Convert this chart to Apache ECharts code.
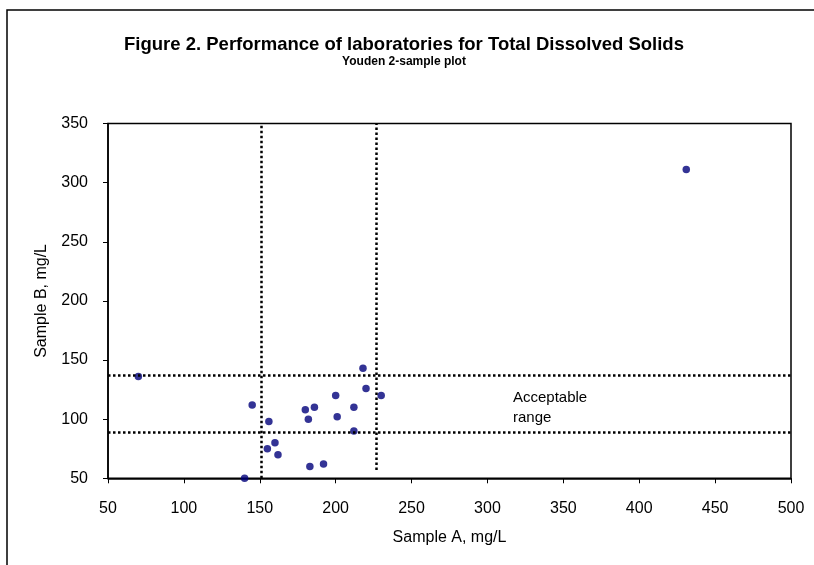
<html>
    <head>
        <meta charset="utf-8">
        <script src="https://cdn.jsdelivr.net/npm/echarts@6/dist/echarts.min.js"></script>
    </head>
    <body style="margin:0">
        <div id="main" style="width:814px;height:565px"></div>
        <script>

        // lab results, mg/L
        var sampleA = [70, 145, 156, 180, 186, 182, 200, 201, 212, 212, 218, 220, 230, 155, 160, 162, 183, 192, 140, 431];
        var sampleB = [136, 112, 98, 108, 110, 100, 120, 102, 110, 90, 143, 126, 120, 75, 80, 70, 60, 62, 50, 311];

        // acceptable limits
        var limitsB = [137.5, 89];
        var limitsA = [151, 227];
        var limitsAFrom = [50, 57];

        var xTicks = [50, 500, 50];   // min, max, step
        var yTicks = [50, 350, 50];

        var font = '"Liberation Sans", Arial, sans-serif';

        var points = [];
        for (var i = 0; i < sampleA.length; i++) {
            points.push([sampleA[i], sampleB[i]]);
        }

        var dotted = { color: '#000', width: 2.5, type: [2.5, 2.5] };

        var lines = [];
        limitsB.forEach(function (v) {
            lines.push({ yAxis: v });
        });
        limitsA.forEach(function (v, i) {
            lines.push([{ coord: [v, limitsAFrom[i]] }, { coord: [v, yTicks[1]] }]);
        });

        var myChart = echarts.init(document.getElementById('main'));

        var option = {
            animation: false,
            backgroundColor: '#fff',
            textStyle: { fontFamily: font },
            title: {
                text: 'Figure 2. Performance of laboratories for Total Dissolved Solids',
                subtext: 'Youden 2-sample plot',
                left: 399,
                textAlign: 'center',
                top: 30,
                itemGap: 2,
                textStyle: { fontFamily: font, fontSize: 18.5, fontWeight: 'bold', color: '#000' },
                subtextStyle: { fontFamily: font, fontSize: 12, fontWeight: 'bold', color: '#000' }
            },
            graphic: [
                {
                    type: 'rect',
                    shape: { x: 7, y: 10, width: 900, height: 700 },
                    style: { fill: null, stroke: '#000', lineWidth: 1.5 },
                    silent: true
                },
                {
                    type: 'text',
                    left: 513,
                    top: 388,
                    style: {
                        text: 'Acceptable\nrange',
                        font: '15px ' + font,
                        fill: '#000',
                        lineHeight: 20
                    }
                }
            ],
            grid: {
                show: true,
                left: 108,
                right: 23,
                top: 123.5,
                bottom: 86.7,
                borderColor: '#000',
                borderWidth: 1.5,
                backgroundColor: '#fff'
            },
            xAxis: {
                type: 'value',
                min: xTicks[0],
                max: xTicks[1],
                interval: xTicks[2],
                name: 'Sample A, mg/L',
                nameLocation: 'middle',
                nameGap: 51,
                nameTextStyle: { fontFamily: font, fontSize: 16, color: '#000' },
                axisLine: { lineStyle: { color: '#000', width: 1.5 } },
                axisTick: { show: true, length: 5, lineStyle: { color: '#000' } },
                axisLabel: { margin: 22, fontFamily: font, fontSize: 16, color: '#000' },
                splitLine: { show: false }
            },
            yAxis: {
                type: 'value',
                min: yTicks[0],
                max: yTicks[1],
                interval: yTicks[2],
                name: 'Sample B, mg/L',
                nameLocation: 'middle',
                nameGap: 58,
                nameTextStyle: { fontFamily: font, fontSize: 16, color: '#000' },
                axisLine: { lineStyle: { color: '#000', width: 1.5 } },
                axisTick: { show: true, length: 5, lineStyle: { color: '#000' } },
                axisLabel: { margin: 20, fontFamily: font, fontSize: 16, color: '#000' },
                splitLine: { show: false }
            },
            series: [
                {
                    type: 'scatter',
                    data: points,
                    symbolSize: 7.5,
                    itemStyle: { color: '#00007a' },
                    markLine: {
                        silent: true,
                        symbol: 'none',
                        label: { show: false },
                        lineStyle: dotted,
                        data: lines
                    }
                }
            ]
        };

        myChart.setOption(option);

        </script>
    </body>
</html>
